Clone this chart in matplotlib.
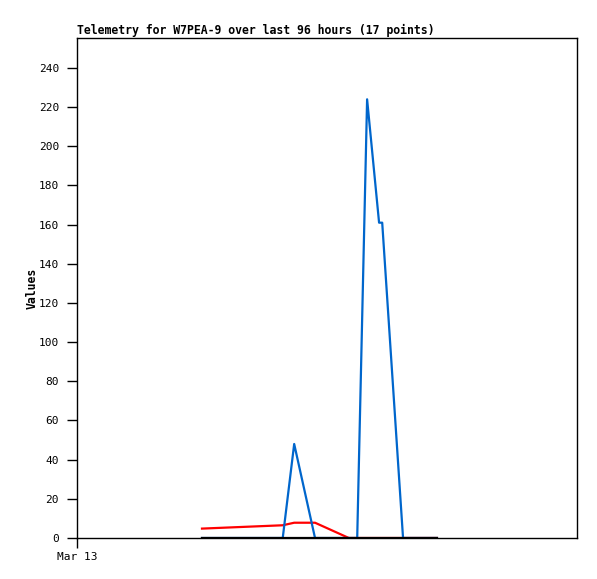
import matplotlib
matplotlib.use("Agg")
import matplotlib.pyplot as plt

# time in hours since Mar 13 00:00
hours = [24.0, 39.5, 41.7, 45.7, 52.2, 53.8, 55.7, 58.0, 58.6, 62.6, 69.1]
blue_vals = [0, 0, 48, 0, 0, 0, 224, 161, 161, 0, 0]
red_vals = [4.8, 6.5, 7.8, 7.8, 0, 0, 0, 0, 0, 0, 0]
black_vals = [0, 0, 0, 0, 0, 0, 0, 0, 0, 0, 0]

yticks = list(range(0, 241, 20))
xtick_pos = [0]
xtick_labels = ["Mar 13"]

fig = plt.figure(figsize=(5.97, 5.79), dpi=100)
ax = fig.add_axes([77/597, 41/579, 500/597, 500/579])

ax.plot(hours, red_vals, color="#ff0000", lw=1.6)
ax.plot(hours, blue_vals, color="#0066cc", lw=1.6)
ax.plot(hours, black_vals, color="#000000", lw=1.6)

ax.set_xlim(0, 96)
ax.set_ylim(0, 255.3)
ax.set_yticks(yticks)
ax.set_yticklabels([str(v) for v in yticks], family="DejaVu Sans Mono", fontsize=8)
ax.set_xticks(xtick_pos)
ax.set_xticklabels(xtick_labels, family="DejaVu Sans Mono", fontsize=8)
ax.tick_params(axis="y", length=7, width=1, pad=6, direction="out")
ax.tick_params(axis="x", length=7, width=1, pad=3, direction="out")
for s in ax.spines.values():
    s.set_linewidth(1)
    s.set_color("black")

ax.set_title("Telemetry for W7PEA-9 over last 96 hours (17 points)", loc="left",
             family="DejaVu Sans Mono", fontsize=8.3, fontweight="bold", pad=3)
ax.set_ylabel("Values", family="DejaVu Sans Mono", fontsize=8.3, fontweight="bold", labelpad=0)

fig.savefig("out.png", dpi=100)
